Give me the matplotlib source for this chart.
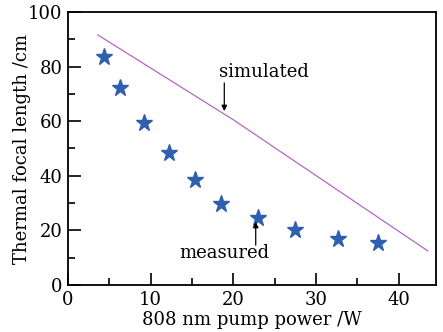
#! /usr/bin/env python3
"""Thermal focal length versus 808 nm pump power."""

import matplotlib

matplotlib.use("Agg")
import matplotlib.pyplot as plt

plt.rcParams.update({"font.family": "DejaVu Serif", "font.size": 13})

# measured points (stars)
measured_power = [4.3, 6.3, 9.2, 12.2, 15.4, 18.5, 23.0, 27.5, 32.7, 37.5]
measured_focal = [83.5, 72.2, 59.5, 48.2, 38.6, 29.8, 24.7, 20.0, 16.9, 15.2]

# simulated curve (line)
simulated_power = [3.6, 20.0, 43.5]
simulated_focal = [91.6, 60.5, 12.5]

fig = plt.figure(figsize=(4.43, 3.32), dpi=100)
ax = fig.add_axes([0.1535, 0.1416, 0.8307, 0.8223])

ax.plot(simulated_power, simulated_focal, color="#b566c4", lw=0.9)
ax.plot(measured_power, measured_focal, ls="none", marker="*", ms=12.5,
        color="#2f5fb0", mec="#2f5fb0")

ax.set_xlim(0, 44.5)
ax.set_ylim(0, 100)
ax.set_xticks([0, 10, 20, 30, 40])
ax.set_xticks([5, 15, 25, 35], minor=True)
ax.set_yticks([0, 20, 40, 60, 80, 100])
ax.set_yticks([10, 30, 50, 70, 90], minor=True)
ax.tick_params(which="both", direction="in", width=1.2, top=False, right=False)
ax.tick_params(which="major", length=9, pad=4)
ax.tick_params(which="minor", length=5)
for spine in ax.spines.values():
    spine.set_linewidth(1.3)

ax.set_xlabel("808 nm pump power /W", labelpad=2)
ax.set_ylabel("Thermal focal length /cm", labelpad=-2)

arrow = {"arrowstyle": "-|>", "color": "black", "lw": 0.9,
         "mutation_scale": 8, "shrinkA": 0, "shrinkB": 0}
ax.text(23.7, 78, "simulated", ha="center", va="center")
ax.annotate("", xy=(18.9, 63.7), xytext=(18.9, 74), arrowprops=arrow)
ax.text(18.9, 11.7, "measured", ha="center", va="center")
ax.annotate("", xy=(22.7, 23.1), xytext=(22.7, 14.6), arrowprops=arrow)

fig.savefig("out.png")
